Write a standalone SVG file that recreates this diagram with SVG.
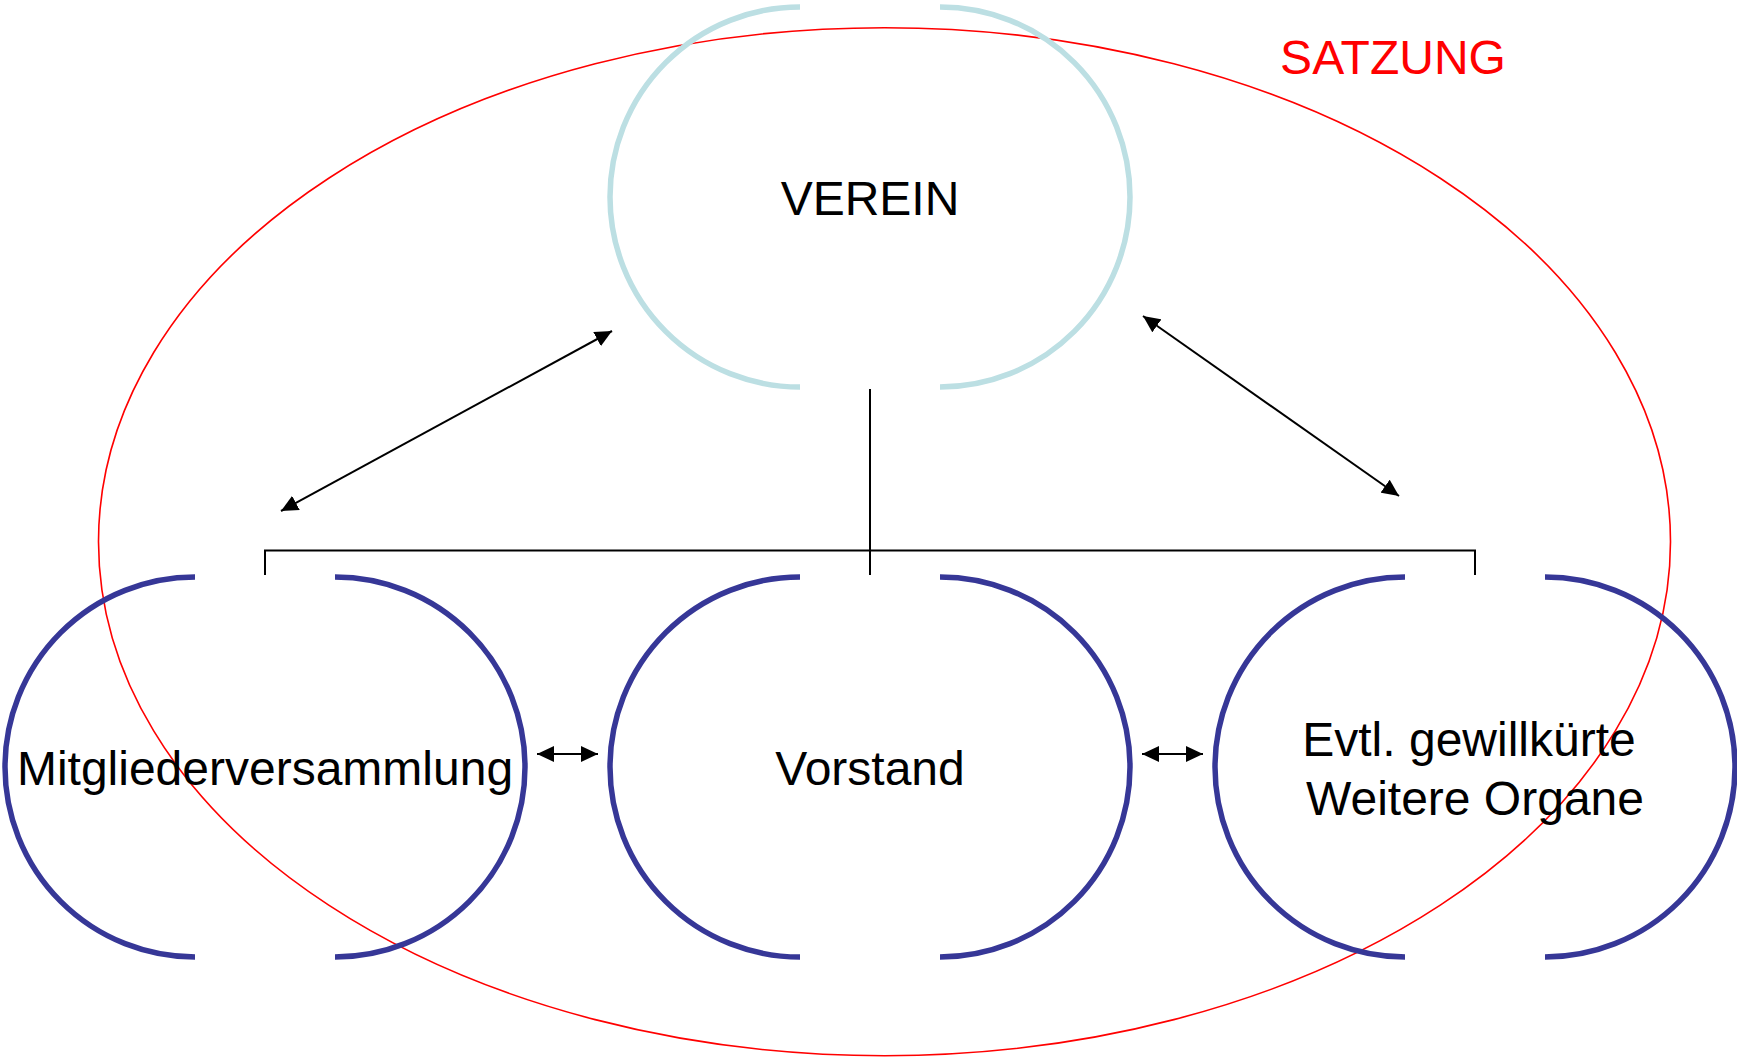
<svg xmlns="http://www.w3.org/2000/svg" width="1737" height="1059" viewBox="0 0 1737 1059">
<style>
.lbl{font-family:"Liberation Sans",Arial,sans-serif;font-size:48px;fill:#000;text-anchor:middle}
.org{fill:none;stroke:#363797;stroke-width:5.5}
.ver{fill:none;stroke:#BCDFE3;stroke-width:5.5}
.con{fill:none;stroke:#000;stroke-width:2}
</style>
<defs>
<marker id="ah" viewBox="0 0 17 16" refX="17" refY="8" markerWidth="17" markerHeight="16" markerUnits="userSpaceOnUse" orient="auto-start-reverse">
<path d="M0,0 L17,8 L0,16 z" fill="#000"/>
</marker>
</defs>
<rect width="1737" height="1059" fill="#fff"/>
<g id="satzung">
<ellipse cx="884.5" cy="541.7" rx="786" ry="514" fill="none" stroke="#FF0000" stroke-width="1.6"/>
<text x="1393" y="74" class="lbl" style="fill:#FF0000">SATZUNG</text>
</g>
<g id="verein">
<path class="ver" d="M800,7 A190,190 0 0 0 800,387"/>
<path class="ver" d="M940,7 A190,190 0 0 1 940,387"/>
<text x="870" y="215" class="lbl">VEREIN</text>
</g>
<g id="mitgliederversammlung">
<path class="org" d="M195,577 A190,190 0 0 0 195,957"/>
<path class="org" d="M335,577 A190,190 0 0 1 335,957"/>
<text x="265" y="785" class="lbl">Mitgliederversammlung</text>
</g>
<g id="vorstand">
<path class="org" d="M800,577 A190,190 0 0 0 800,957"/>
<path class="org" d="M940,577 A190,190 0 0 1 940,957"/>
<text x="870" y="785" class="lbl">Vorstand</text>
</g>
<g id="weitere-organe">
<path class="org" d="M1405,577 A190,190 0 0 0 1405,957"/>
<path class="org" d="M1545,577 A190,190 0 0 1 1545,957"/>
<text x="1469" y="756" class="lbl">Evtl. gewillkürte</text>
<text x="1475" y="815" class="lbl">Weitere Organe</text>
</g>
<g id="connectors">
<path class="con" d="M870,389 L870,575"/>
<path class="con" d="M265,575 L265,550.5 L1475,550.5 L1475,575"/>
<line class="con" x1="281" y1="511" x2="612" y2="331" marker-start="url(#ah)" marker-end="url(#ah)"/>
<line class="con" x1="1143" y1="316" x2="1399" y2="496" marker-start="url(#ah)" marker-end="url(#ah)"/>
<line class="con" x1="537" y1="754" x2="598" y2="754" marker-start="url(#ah)" marker-end="url(#ah)"/>
<line class="con" x1="1142" y1="754" x2="1203" y2="754" marker-start="url(#ah)" marker-end="url(#ah)"/>
</g>
</svg>
